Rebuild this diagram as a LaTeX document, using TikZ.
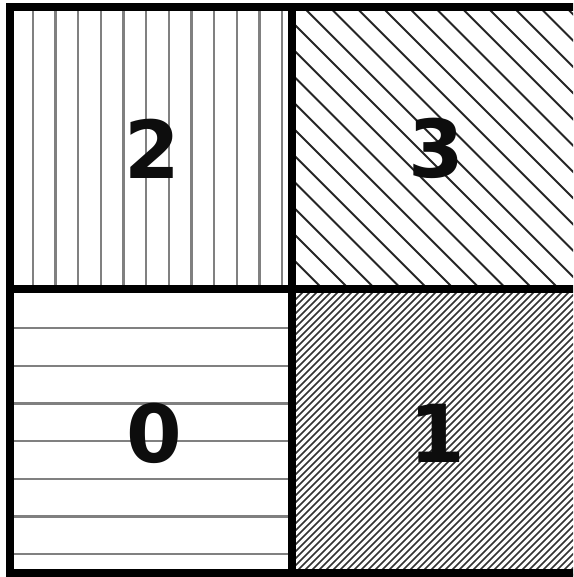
\documentclass[tikz,border=0pt]{standalone}
\usepackage{fontspec}
\newfontfamily\digitfont{DejaVu Sans}
\begin{document}
\begin{tikzpicture}[x=1pt,y=-1pt,
  border/.style={line width=8.5pt,black},
  vstripe/.style={line width=2.3pt,color=black!50},
  hstripe/.style={line width=2.3pt,color=black!50},
  wdiag/.style={line width=2pt,color=black!85},
  ndiag/.style={line width=1.7pt,color=black!80},
  digit/.style={font=\digitfont\bfseries\fontsize{80}{80}\selectfont,text=black!95,inner sep=0pt}]
\useasboundingbox (0,0) rectangle (573,577);
\clip (0,0) rectangle (573,577);
\fill[white] (0,0) rectangle (573,577);
% cell 2: vertical lines
\begin{scope}
  \clip (10,7) rectangle (292,289);
  \foreach \k in {0,...,11} \draw[vstripe] ({33+22.64*\k},0) -- ({33+22.64*\k},300);
\end{scope}
% cell 3: wide diagonals
\begin{scope}
  \clip (292,7) rectangle (590,289);
  \foreach \k in {-12,...,11} \draw[wdiag] (250,{250-270+26.25*\k}) -- (620,{620-270+26.25*\k});
\end{scope}
% cell 0: horizontal lines
\begin{scope}
  \clip (10,289) rectangle (292,577);
  \foreach \k in {0,...,6} \draw[hstripe] (0,{328+37.7*\k}) -- (300,{328+37.7*\k});
\end{scope}
% cell 1: dense diagonals
\begin{scope}
  \clip (292,289) rectangle (590,577);
  \foreach \k in {-4,...,86} \draw[ndiag] (250,{581+7*\k-250}) -- (620,{581+7*\k-620});
\end{scope}
% borders
\draw[border] (10,7) rectangle (578,573);
\draw[border] (292,7) -- (292,573);
\draw[border] (10,289) -- (578,289);
% labels
\node[digit] (c2) at (152,149) {2};
\node[digit] (c3) at (436,148) {3};
\node[digit] (c0) at (154,433) {0};
\node[digit] (c1) at (437,433) {1};
\end{tikzpicture}
\end{document}
